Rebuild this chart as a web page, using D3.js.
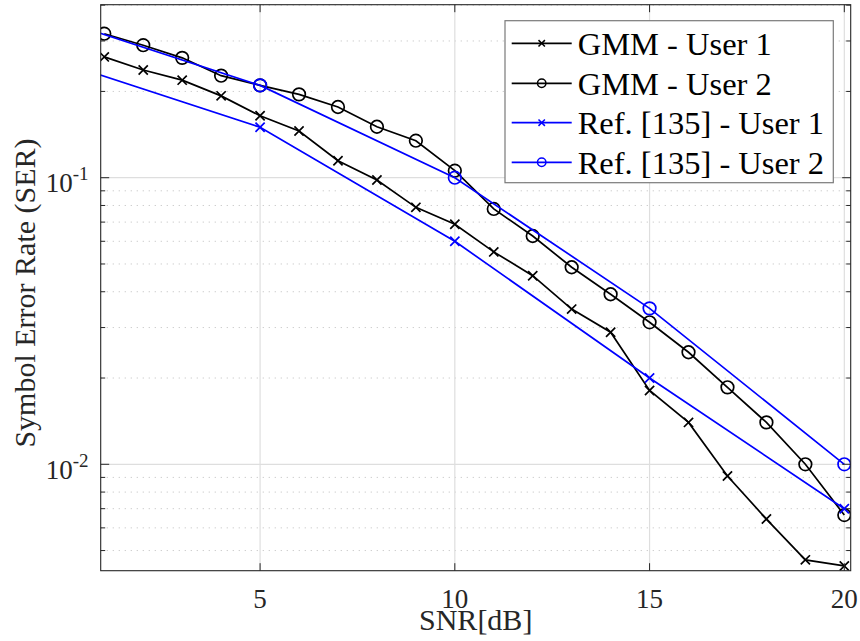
<!DOCTYPE html>
<html>
<head>
<meta charset="utf-8">
<script src="https://cdn.jsdelivr.net/npm/d3@7"></script>
<style>
  html, body { margin: 0; padding: 0; background: #fff; }
  svg { display: block; font-family: "Liberation Serif", "Times New Roman", serif; }
</style>
</head>
<body>
<svg id="chart" width="860" height="641"></svg>
<script>
// SNR grid of the GMM detector simulations (dB)
const snrGmm = [1, 2, 3, 4, 5, 6, 7, 8, 9, 10, 11, 12, 13, 14, 15, 16, 17, 18, 19, 20];
// Symbol error rates of the GMM detector
const serGmmUser1 = [0.264, 0.2375, 0.219, 0.193, 0.1645, 0.1455, 0.1146, 0.0982, 0.0788, 0.0688,
                     0.0551, 0.0455, 0.0348, 0.0289, 0.0181, 0.014, 0.0091, 0.00644, 0.00464, 0.00442];
const serGmmUser2 = [0.318, 0.29, 0.262, 0.227, 0.21, 0.1954, 0.1765, 0.1506, 0.1346, 0.1058,
                     0.0778, 0.0626, 0.0487, 0.0392, 0.0313, 0.0246, 0.01856, 0.014, 0.01, 0.00665];
// Reference curves (coarser SNR grid)
const snrRef = [0, 5, 10, 15, 20];
const serRefUser1 = [0.25, 0.15, 0.06, 0.02, 0.007];
const serRefUser2 = [0.35, 0.21, 0.1, 0.035, 0.01];

const xTicks = [5, 10, 15, 20];
const yMajorTicks = [0.01, 0.1];
const yMajorExponents = ["-2", "-1"];
const yMinorTicks = [0.005, 0.006, 0.007, 0.008, 0.009,
                     0.02, 0.03, 0.04, 0.05, 0.06, 0.07, 0.08, 0.09,
                     0.2, 0.3, 0.4];
const xLabel = "SNR[dB]";
const yLabel = "Symbol Error Rate (SER)";

const seriesNames = ["GMM - User 1", "GMM - User 2", "Ref. [135] - User 1", "Ref. [135] - User 2"];
const seriesColors = ["#000000", "#000000", "#0000ff", "#0000ff"];
const seriesMarkers = ["x", "o", "x", "o"];

const series = [
  { x: snrGmm, y: serGmmUser1 },
  { x: snrGmm, y: serGmmUser2 },
  { x: snrRef, y: serRefUser1 },
  { x: snrRef, y: serRefUser2 }
].map((s, i) => ({ ...s, name: seriesNames[i], color: seriesColors[i], marker: seriesMarkers[i] }));

// Plot frame
const L = 100.7, R = 850.7, T = 4.7, B = 570.7;
const svg = d3.select("#chart");

const x = d3.scaleLinear().domain([0.908, 20.164]).range([L, R]);
const y = d3.scaleLog().domain([0.004253, 0.4015]).range([B, T]);

// Grid
const grid = svg.append("g");
grid.selectAll("line.minor").data(yMinorTicks).join("line")
  .attr("x1", L).attr("x2", R)
  .attr("y1", d => y(d)).attr("y2", d => y(d))
  .attr("stroke", "#c8c8c8").attr("stroke-width", 1)
  .attr("stroke-dasharray", "1.2,4.8");
grid.selectAll("line.ymaj").data(yMajorTicks).join("line")
  .attr("x1", L).attr("x2", R)
  .attr("y1", d => y(d)).attr("y2", d => y(d))
  .attr("stroke", "#dedede").attr("stroke-width", 1.2);
grid.selectAll("line.xmaj").data(xTicks).join("line")
  .attr("y1", T).attr("y2", B)
  .attr("x1", d => x(d)).attr("x2", d => x(d))
  .attr("stroke", "#dedede").attr("stroke-width", 1.2);

// Clip region for the curves
svg.append("clipPath").attr("id", "plotClip")
  .append("rect").attr("x", L).attr("y", T).attr("width", R - L).attr("height", B - T);

const line = d3.line().x(d => x(d[0])).y(d => y(d[1]));

function drawMarker(g, type, cx, cy, size, color, width) {
  if (type === "x") {
    g.append("path")
      .attr("d", `M${cx - size},${cy - size}L${cx + size},${cy + size}M${cx - size},${cy + size}L${cx + size},${cy - size}`)
      .attr("stroke", color).attr("stroke-width", width).attr("fill", "none");
  } else {
    g.append("circle").attr("cx", cx).attr("cy", cy).attr("r", size)
      .attr("stroke", color).attr("stroke-width", width).attr("fill", "none");
  }
}

const plot = svg.append("g").attr("clip-path", "url(#plotClip)");
series.forEach(s => {
  const pts = s.x.map((v, i) => [v, s.y[i]]);
  plot.append("path").attr("d", line(pts))
    .attr("fill", "none").attr("stroke", s.color).attr("stroke-width", 1.7);
  const mg = plot.append("g");
  pts.forEach(p => {
    drawMarker(mg, s.marker, x(p[0]), y(p[1]), s.marker === "x" ? 4.6 : 6.3, s.color, 1.7);
  });
});

// Axes box and ticks
const axisColor = "#262626";
const box = svg.append("g");
box.append("rect").attr("x", L).attr("y", T).attr("width", R - L).attr("height", B - T)
  .attr("fill", "none").attr("stroke", axisColor).attr("stroke-width", 1.1);

const tickG = svg.append("g").attr("stroke", axisColor).attr("stroke-width", 1);
xTicks.forEach(t => {
  tickG.append("line").attr("x1", x(t)).attr("x2", x(t)).attr("y1", B).attr("y2", B - 7.5);
  tickG.append("line").attr("x1", x(t)).attr("x2", x(t)).attr("y1", T).attr("y2", T + 7.5);
});
yMajorTicks.forEach(t => {
  tickG.append("line").attr("x1", L).attr("x2", L + 8.5).attr("y1", y(t)).attr("y2", y(t));
  tickG.append("line").attr("x1", R).attr("x2", R - 8.5).attr("y1", y(t)).attr("y2", y(t));
});
yMinorTicks.forEach(t => {
  tickG.append("line").attr("x1", L).attr("x2", L + 4.5).attr("y1", y(t)).attr("y2", y(t));
  tickG.append("line").attr("x1", R).attr("x2", R - 4.5).attr("y1", y(t)).attr("y2", y(t));
});

// Tick labels
const textColor = "#262626";
svg.append("g").selectAll("text").data(xTicks).join("text")
  .attr("x", d => x(d)).attr("y", 607.8)
  .attr("text-anchor", "middle").attr("fill", textColor)
  .attr("font-size", 27).text(d => d);

yMajorTicks.forEach((t, i) => {
  const txt = svg.append("text")
    .attr("x", 88.5).attr("y", y(t) + 14.5)
    .attr("text-anchor", "end").attr("fill", textColor).attr("font-size", 27);
  txt.append("tspan").text("10");
  txt.append("tspan").attr("font-size", 19).attr("dy", -12).text(yMajorExponents[i]);
});

// Axis labels
svg.append("text").attr("x", (L + R) / 2).attr("y", 629.5)
  .attr("text-anchor", "middle").attr("fill", textColor).attr("font-size", 30).text(xLabel);
svg.append("text")
  .attr("transform", `translate(35,293) rotate(-90)`)
  .attr("text-anchor", "middle").attr("fill", textColor).attr("font-size", 30).text(yLabel);

// Legend
const lg = svg.append("g");
const lgX = 505, lgY = 20.7, lgW = 328.3, lgH = 162;
lg.append("rect").attr("x", lgX).attr("y", lgY).attr("width", lgW).attr("height", lgH)
  .attr("fill", "#fff").attr("stroke", "#7a7a7a").attr("stroke-width", 1.2);
const rowY = [43.3, 83.3, 122.7, 162.3];
series.forEach((s, i) => {
  lg.append("line").attr("x1", 511.7).attr("x2", 571.7).attr("y1", rowY[i]).attr("y2", rowY[i])
    .attr("stroke", s.color).attr("stroke-width", 1.7);
  drawMarker(lg, s.marker, 541.7, rowY[i], s.marker === "x" ? 3.2 : 4.2, s.color, 1.5);
  lg.append("text").attr("x", 577.7).attr("y", rowY[i] + 11.5)
    .attr("fill", "#000").attr("font-size", 32.5).text(s.name);
});
</script>
</body>
</html>
